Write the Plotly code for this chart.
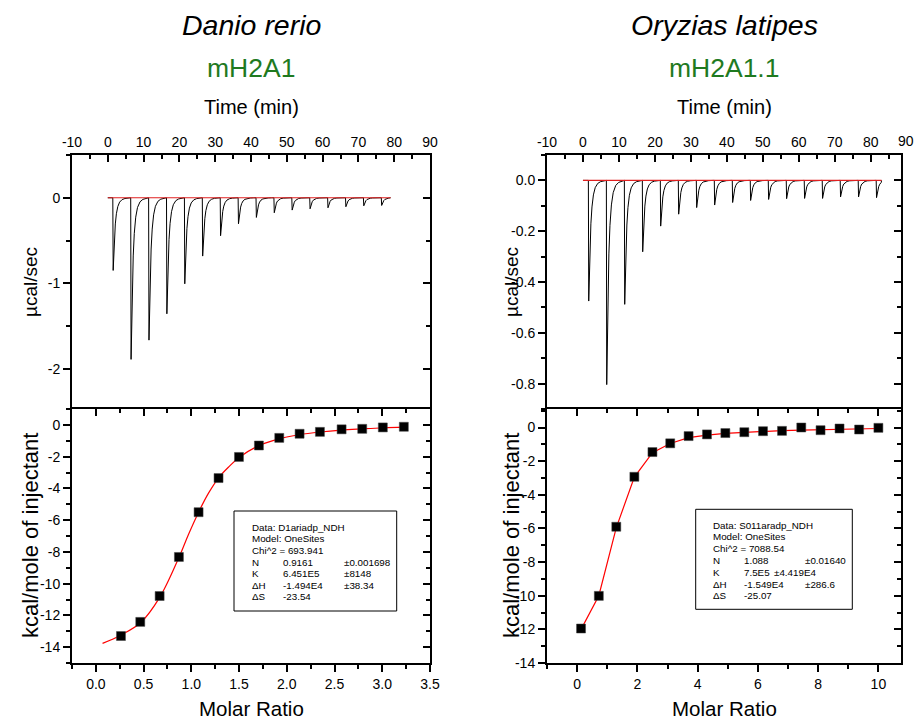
import plotly.graph_objects as go

W, H = 919, 725
FONT = "Liberation Sans"

# ---------------- DATA ----------------
# Left: Danio rerio mH2A1
L_inj_time = [1.4, 6.4, 11.4, 16.4, 21.4, 26.4, 31.4, 36.4, 41.4, 46.4, 51.4, 56.4, 61.4, 66.4, 71.4, 76.4]
L_inj_depth = [0.85, 1.89, 1.665, 1.357, 1.006, 0.682, 0.444, 0.304, 0.23, 0.175, 0.144, 0.129, 0.117, 0.105, 0.094, 0.09]
L_base_time = [0, 79]
L_ratio = [0.263, 0.465, 0.668, 0.870, 1.076, 1.285, 1.499, 1.708, 1.921, 2.134, 2.347, 2.574, 2.79, 3.006, 3.226]
L_heat = [-13.30, -12.41, -10.78, -8.32, -5.50, -3.35, -2.02, -1.30, -0.82, -0.56, -0.44, -0.28, -0.25, -0.16, -0.12]
L_fit_x = [0.07, 0.26, 0.47, 0.67, 0.87, 0.97, 1.08, 1.18, 1.29, 1.40, 1.50, 1.71, 1.92, 2.13, 2.35, 2.57, 2.79, 3.01, 3.23]
L_fit_y = [-13.76, -13.25, -12.45, -10.85, -8.35, -6.9, -5.45, -4.3, -3.3, -2.6, -2.05, -1.3, -0.88, -0.62, -0.45, -0.33, -0.25, -0.18, -0.14]

# Right: Oryzias latipes mH2A1.1
R_inj_time = [1.5, 6.5, 11.5, 16.5, 21.5, 26.5, 31.5, 36.5, 41.5, 46.5, 51.5, 56.5, 61.5, 66.5, 71.5, 76.5, 81.5]
R_inj_depth = [0.475, 0.804, 0.488, 0.281, 0.18, 0.133, 0.107, 0.097, 0.087, 0.079, 0.075, 0.072, 0.071, 0.071, 0.065, 0.065, 0.068]
R_base_time = [0, 83]
R_ratio = [0.13, 0.72, 1.30, 1.90, 2.50, 3.09, 3.70, 4.31, 4.92, 5.55, 6.17, 6.80, 7.44, 8.08, 8.71, 9.36, 10.0]
R_heat = [-11.95, -10.01, -5.90, -2.93, -1.46, -0.94, -0.51, -0.41, -0.33, -0.28, -0.22, -0.20, 0.0, -0.16, -0.06, -0.12, -0.02]
R_fit_x = [0.13, 0.72, 1.30, 1.90, 2.50, 3.09, 3.70, 4.31, 4.92, 5.55, 6.17, 6.80, 7.44, 8.08, 8.71, 9.36, 10.0]
R_fit_y = [-12.0, -10.0, -5.95, -2.95, -1.5, -0.95, -0.6, -0.45, -0.35, -0.28, -0.22, -0.18, -0.15, -0.12, -0.1, -0.08, -0.06]

# tick labels
time_ticks = [-10, 0, 10, 20, 30, 40, 50, 60, 70, 80, 90]
L_power_ticks = [0, -1, -2]
R_power_ticks = [0.0, -0.2, -0.4, -0.6, -0.8]
L_ratio_ticks = [0.0, 0.5, 1.0, 1.5, 2.0, 2.5, 3.0, 3.5]
R_ratio_ticks = [0, 2, 4, 6, 8, 10]
L_heat_ticks = [0, -2, -4, -6, -8, -10, -12, -14]
R_heat_ticks = [0, -2, -4, -6, -8, -10, -12, -14]

species = ["Danio rerio", "Oryzias latipes"]
proteins = ["mH2A1", "mH2A1.1"]

L_box_lines = [["Data: D1ariadp_NDH"], ["Model: OneSites"], ["Chi^2 = 693.941"],
               ["N", "0.9161", "±0.001698"], ["K", "6.451E5", "±8148"],
               ["ΔH", "-1.494E4", "±38.34"], ["ΔS", "-23.54"]]
R_box_lines = [["Data: S011aradp_NDH"], ["Model: OneSites"], ["Chi^2 = 7088.54"],
               ["N", "1.088", "±0.01640"], ["K", "7.5E5", "±4.419E4"],
               ["ΔH", "-1.549E4", "±286.6"], ["ΔS", "-25.07"]]

# normalized peak template (style of each injection peak)
PEAK_DT = [0, 0.1, 0.25, 0.45, 0.7, 1.0, 1.4, 1.9, 2.6, 3.4, 4.3, 4.95]
PEAK_FR = [0, 1.0, 0.78, 0.55, 0.36, 0.22, 0.12, 0.06, 0.025, 0.01, 0.003, 0]


def px(x):
    return x / W


def py(y):
    return 1 - y / H


def thermo(times, depths, t_end):
    xs, ys = [0.0], [0.0]
    for t0, d in zip(times, depths):
        for dt, f in zip(PEAK_DT, PEAK_FR):
            if t0 + dt < t_end:
                xs.append(t0 + dt)
                ys.append(-d * f)
    xs.append(t_end)
    ys.append(0.0)
    return xs, ys


fig = go.Figure()

lx, ly = thermo(L_inj_time, L_inj_depth, L_base_time[-1])
rx, ry = thermo(R_inj_time, R_inj_depth, R_base_time[-1])

fig.add_trace(go.Scatter(x=lx, y=ly, mode="lines", line=dict(color="black", width=1), xaxis="x", yaxis="y"))
fig.add_trace(go.Scatter(x=L_base_time, y=[0, 0], mode="lines", line=dict(color="#e02020", width=1.2), xaxis="x", yaxis="y"))
fig.add_trace(go.Scatter(x=L_fit_x, y=L_fit_y, mode="lines", line=dict(color="red", width=1.2, shape="spline"), xaxis="x2", yaxis="y2"))
fig.add_trace(go.Scatter(x=L_ratio, y=L_heat, mode="markers", marker=dict(symbol="square", size=9, color="black",
                         line=dict(color="#444", width=0.5)), xaxis="x2", yaxis="y2"))

fig.add_trace(go.Scatter(x=rx, y=ry, mode="lines", line=dict(color="black", width=1), xaxis="x4", yaxis="y5"))
fig.add_trace(go.Scatter(x=R_base_time, y=[0, 0], mode="lines", line=dict(color="#e02020", width=1.2), xaxis="x4", yaxis="y5"))
fig.add_trace(go.Scatter(x=R_fit_x, y=R_fit_y, mode="lines", line=dict(color="red", width=1.2), xaxis="x5", yaxis="y6"))
fig.add_trace(go.Scatter(x=R_ratio, y=R_heat, mode="markers", marker=dict(symbol="square", size=9, color="black",
                         line=dict(color="#444", width=0.5)), xaxis="x5", yaxis="y6"))

# dummy traces on mirror axes
for xa, ya in [("x", "y3"), ("x3", "y2"), ("x2", "y4"), ("x4", "y7"), ("x6", "y6"), ("x5", "y8")]:
    fig.add_trace(go.Scatter(x=[None], y=[None], xaxis=xa, yaxis=ya, hoverinfo="skip"))

tickfont = dict(family=FONT, size=14, color="black")


def lab(v, fmt):
    return (fmt % v).replace("\u2212", "-")


def ax(rng, dtick, mdtick, ticks, labels=True, vals=None, fmt="%g", **kw):
    d = dict(range=rng, ticks=ticks, ticklen=7, tickwidth=1.5, tickcolor="black",
             minor=dict(tick0=0, dtick=mdtick, ticks=ticks, ticklen=4, tickwidth=1.5, tickcolor="black"),
             showline=True, linewidth=2, linecolor="black", showgrid=False, zeroline=False,
             showticklabels=labels, tickfont=tickfont, fixedrange=True, automargin=False)
    if vals is not None:
        d["tickmode"] = "array"
        d["tickvals"] = vals
        d["ticktext"] = [lab(v, fmt) for v in vals]
    else:
        d["tick0"] = 0
        d["dtick"] = dtick
    d.update(kw)
    return d


LD = [px(72), px(430)]
RD = [px(547), px(901)]
TD = [py(409), py(155)]
BD = [py(663), py(409)]

fig.update_layout(
    xaxis=ax([-10, 90], 10, 5, "inside", vals=time_ticks, domain=LD, anchor="y", side="top"),
    yaxis=ax([-2.47, 0.5], 1, 0.5, "outside", vals=L_power_ticks, domain=TD, anchor="x"),
    yaxis3=ax([-2.47, 0.5], 1, 0.5, "inside", labels=False, overlaying="y", side="right", anchor="x"),
    xaxis2=ax([-0.25, 3.5], 0.5, 0.25, "outside", vals=L_ratio_ticks, fmt="%.1f", domain=LD, anchor="y2", side="bottom"),
    xaxis3=ax([-0.25, 3.5], 0.5, 0.25, "inside", labels=False, overlaying="x2", side="top", anchor="y2"),
    yaxis2=ax([-15, 1], 2, 1, "outside", vals=L_heat_ticks, domain=BD, anchor="x2"),
    yaxis4=ax([-15, 1], 2, 1, "inside", labels=False, overlaying="y2", side="right", anchor="x2"),

    xaxis4=ax([-10, 88.4], 10, 5, "inside", vals=time_ticks, domain=RD, anchor="y5", side="top"),
    yaxis5=ax([-0.9, 0.1], 0.2, 0.1, "outside", vals=R_power_ticks, fmt="%.1f", domain=TD, anchor="x4"),
    yaxis7=ax([-0.9, 0.1], 0.2, 0.1, "inside", labels=False, overlaying="y5", side="right", anchor="x4"),
    xaxis5=ax([-1, 10.75], 2, 1, "outside", vals=R_ratio_ticks, domain=RD, anchor="y6", side="bottom"),
    xaxis6=ax([-1, 10.75], 2, 1, "inside", labels=False, overlaying="x5", side="top", anchor="y6"),
    yaxis6=ax([-14, 1.1], 2, 1, "outside", vals=R_heat_ticks, domain=BD, anchor="x5"),
    yaxis8=ax([-14, 1.1], 2, 1, "inside", labels=False, overlaying="y6", side="right", anchor="x5"),

    width=W, height=H, margin=dict(l=0, r=0, t=0, b=0, autoexpand=False),
    paper_bgcolor="white", plot_bgcolor="white", showlegend=False,
    font=dict(family=FONT, color="black"),
)

ann = []


def text(x, y, s, size, **kw):
    d = dict(x=px(x), y=py(y), xref="paper", yref="paper", text=s, showarrow=False,
             font=dict(family=FONT, size=size, color=kw.pop("color", "black")),
             xanchor=kw.pop("xanchor", "center"), yanchor=kw.pop("yanchor", "middle"))
    d.update(kw)
    ann.append(d)


for cx, sp, pr in [(251, species[0], proteins[0]), (724, species[1], proteins[1])]:
    text(cx, 25, "<i>" + sp + "</i>", 28.5)
    text(cx, 68, pr, 26.5, color="#1f7a1f")
    text(cx, 107, "Time (min)", 20)
    text(cx, 708, "Molar Ratio", 20.5)

for cx in [30, 511]:
    text(cx, 282, "µcal/sec", 19, textangle=-90)
    text(cx, 536, "kcal/mole of injectant", 22, textangle=-90)

# "90" label at the right end of the right time axis (beyond the frame, as in the original)
text(906, 141, str(time_ticks[-1]), 14)

# fit-parameter boxes
fig.add_shape(type="rect", xref="paper", yref="paper", x0=px(234), x1=px(396.7), y0=py(611), y1=py(511),
              line=dict(color="black", width=1), fillcolor="white", layer="above")
fig.add_shape(type="rect", xref="paper", yref="paper", x0=px(695.7), x1=px(852.3), y0=py(609.3), y1=py(509.3),
              line=dict(color="black", width=1), fillcolor="white", layer="above")

L_cols = [250, 280.7, 341.7]
L_rows = [527.3, 538.7, 550.3, 562, 573.5, 585.1, 596.7]
R_cols = [711, 741.7, 802.7]
R_rows = [525.3, 536.9, 548.6, 560.6, 572.3, 584.0, 595.7]

for rows, cols, lines, kcol in [(L_rows, L_cols, L_box_lines, None), (R_rows, R_cols, R_box_lines, 772.3)]:
    for yy, parts in zip(rows, lines):
        for i, s in enumerate(parts):
            xx = cols[i]
            if kcol and parts[0] == "K" and i == 2:
                xx = kcol
            text(xx, yy, s, 9.8, xanchor="left")

fig.update_layout(annotations=ann)
fig.write_html("out.html", config={"displayModeBar": False},
               post_script="document.body.style.margin='0';")
